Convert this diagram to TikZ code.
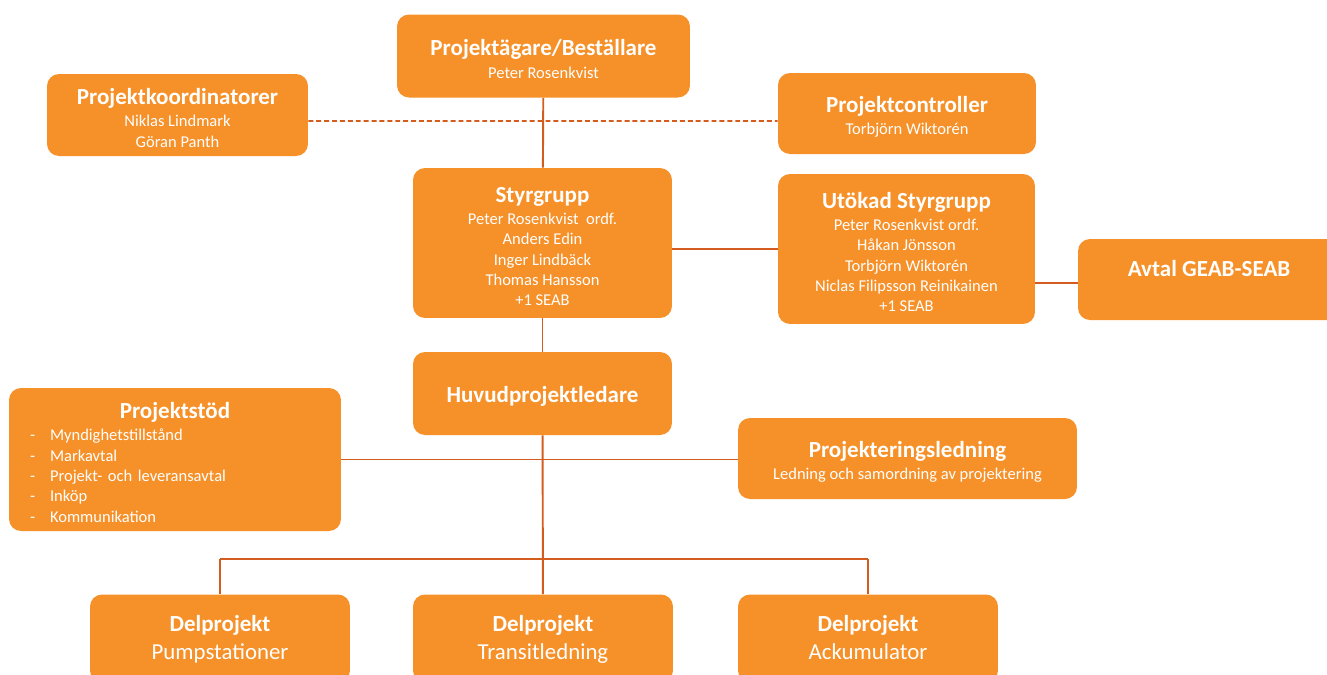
\documentclass[tikz,border=0pt]{standalone}
\usepackage{fontspec}
\setmainfont{Carlito}
\usetikzlibrary{positioning}

\definecolor{boxorange}{RGB}{246,144,40}
\definecolor{lineorange}{RGB}{212,92,30}
\newcommand{\boxtitle}[1]{{\fontsize{13.1}{14}\selectfont\bfseries\rule{0pt}{12.6pt}#1}}
\newcommand{\listitem}[1]{\makebox[0.4cm][l]{-}#1}

\begin{document}
\begin{tikzpicture}[x=0.02cm,y=-0.02cm]
      \useasboundingbox (0,0) rectangle (1327,674);
      \clip (0,0) rectangle (1327,674);
      \begin{scope}[every node/.style={rounded corners=0.24cm,fill=boxorange,text=white,align=center,inner sep=0pt,
          font=\fontsize{9.4}{11.6}\selectfont}]
        \node[minimum width=5.86cm,minimum height=1.66cm] (1) at (543.5,56) {\boxtitle{Projektägare/Beställare}\\[1pt]Peter Rosenkvist};
        \node[minimum width=5.22cm,minimum height=1.64cm] (2) at (177.5,115) {\boxtitle{Projektkoordinatorer}\\[1pt]Niklas Lindmark\\Göran Panth};
        \node[minimum width=5.16cm,minimum height=1.62cm] (3) at (907,113.5) {\boxtitle{Projektcontroller}\\[1pt]Torbjörn Wiktorén};
        \node[minimum width=5.18cm,minimum height=3.0cm] (4) at (542.5,243) {\boxtitle{Styrgrupp}\\[1pt]Peter Rosenkvist\ \ ordf.\\Anders Edin\\Inger Lindbäck\\Thomas Hansson\\+1 SEAB};
        \node[minimum width=5.14cm,minimum height=3.0cm] (5) at (906.5,249) {\boxtitle{Utökad Styrgrupp}\\[1pt]Peter Rosenkvist ordf.\\Håkan Jönsson\\Torbjörn Wiktorén\\Niclas Filipsson Reinikainen\\+1 SEAB};
        \node[minimum width=5.24cm,minimum height=1.62cm] (6) at (1209,279.5) {\boxtitle{Avtal GEAB-SEAB}\\[4pt]};
        \node[minimum width=5.18cm,minimum height=1.66cm] (7) at (542.5,393.5) {\boxtitle{Huvudprojektledare}};
        \node[minimum width=6.64cm,minimum height=2.86cm,align=left,text width=5.8cm] (8) at (175,459.5)
          {\makebox[5.8cm]{\boxtitle{Projektstöd}}\\[1pt]\listitem{Myndighetstillstånd}\\\listitem{Markavtal}\\
           \listitem{Projekt- och leveransavtal}\\\listitem{Inköp}\\\listitem{Kommunikation}};
        \node[minimum width=6.78cm,minimum height=1.62cm] (9) at (907.5,458.5) {\boxtitle{Projekteringsledning}\\[1pt]Ledning och samordning av projektering};
        \node[minimum width=5.2cm,minimum height=1.76cm,font=\fontsize{13}{16}\selectfont] (10) at (220,638.5) {\boxtitle{Delprojekt}\\Pumpstationer\strut};
        \node[minimum width=5.2cm,minimum height=1.76cm,font=\fontsize{13}{16}\selectfont] (11) at (543,638.5) {\boxtitle{Delprojekt}\\Transitledning\strut};
        \node[minimum width=5.2cm,minimum height=1.76cm,font=\fontsize{13}{16}\selectfont] (12) at (868,638.5) {\boxtitle{Delprojekt}\\Ackumulator\strut};
      \end{scope}
      \coordinate (bl) at (220,559);
      \coordinate (br) at (868,559);
      \begin{scope}[every edge/.style={draw,lineorange,line width=1.1pt}]
        \path (1) edge (4);
        \path ([yshift=-0.12cm]2.east) edge[dash pattern=on 2.8pt off 1.7pt] ([yshift=-0.15cm]3.west);
        \path (5.west -| 4.east) edge (5.west);
        \path ([yshift=-0.07cm]6.west -| 5.east) edge ([yshift=-0.07cm]6.west);
        \path (4) edge (7);
        \path (7) edge (11);
        \path (8.east) edge (8.east -| 9.west);
        \path (bl) edge (br);
        \path (bl) edge (10);
        \path (br) edge (12);
      \end{scope}
    \end{tikzpicture}
\end{document}
